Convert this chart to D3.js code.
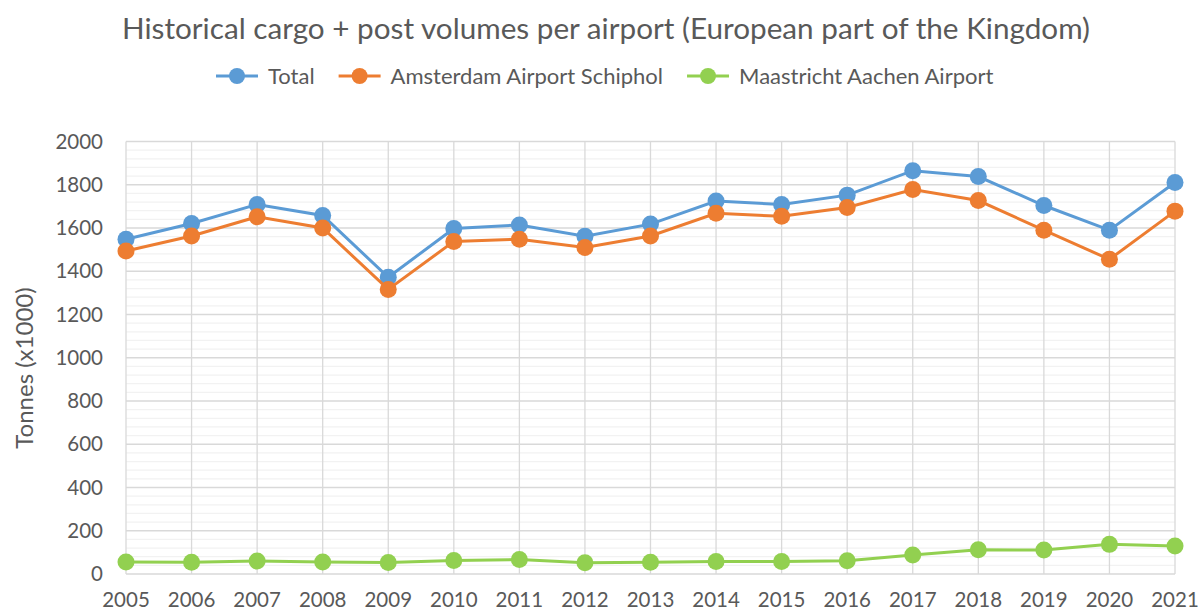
<!DOCTYPE html>
<html>
<head>
<meta charset="utf-8">
<script src="https://cdn.jsdelivr.net/npm/d3@7"></script>
<style>
  body { margin: 0; background: #fff; }
  text { font-family: Lato, "Open Sans", sans-serif; fill: #595959; }
</style>
</head>
<body>
<div id="chart"></div>
<script>
// jaren en waarden (x1000 ton)
const years = ["2005","2006","2007","2008","2009","2010","2011","2012","2013","2014","2015","2016","2017","2018","2019","2020","2021"];
const total = [1548, 1621, 1709, 1658, 1372, 1598, 1614, 1562, 1618, 1725, 1709, 1752, 1865, 1838, 1704, 1590, 1810];
const schiphol = [1494, 1563, 1652, 1600, 1316, 1538, 1548, 1510, 1563, 1668, 1654, 1695, 1778, 1727, 1590, 1455, 1678];
const maastricht = [55, 54, 60, 56, 53, 62, 67, 52, 54, 58, 58, 61, 88, 112, 111, 137, 129];
const yTicks = [0, 200, 400, 600, 800, 1000, 1200, 1400, 1600, 1800, 2000];

const series = [
  { name: "Total", values: total, color: "#5B9BD5" },
  { name: "Amsterdam Airport Schiphol", values: schiphol, color: "#ED7D31" },
  { name: "Maastricht Aachen Airport", values: maastricht, color: "#92D050" }
];

const width = 1200, height = 615;
const plotLeft = 126, plotRight = 1175, plotTop = 141.5, plotBottom = 574;

const svg = d3.select("#chart").append("svg")
  .attr("width", width)
  .attr("height", height);

const x = d3.scalePoint().domain(years).range([plotLeft, plotRight]);
const y = d3.scaleLinear().domain([0, 2000]).range([plotBottom, plotTop]);

// minor gridlines (elke 40)
svg.append("g").selectAll("line")
  .data(d3.range(0, 2001, 40).filter(v => v % 200 !== 0))
  .enter().append("line")
  .attr("x1", plotLeft).attr("x2", plotRight)
  .attr("y1", d => y(d)).attr("y2", d => y(d))
  .attr("stroke", "#F2F2F2").attr("stroke-width", 1.3);

// major gridlines
svg.append("g").selectAll("line")
  .data(yTicks)
  .enter().append("line")
  .attr("x1", plotLeft).attr("x2", plotRight)
  .attr("y1", d => y(d)).attr("y2", d => y(d))
  .attr("stroke", "#D9D9D9").attr("stroke-width", 1.3);

// verticale gridlines
svg.append("g").selectAll("line")
  .data(years)
  .enter().append("line")
  .attr("x1", d => x(d)).attr("x2", d => x(d))
  .attr("y1", plotTop).attr("y2", plotBottom)
  .attr("stroke", "#D9D9D9").attr("stroke-width", 1.3);

// y labels
svg.append("g").selectAll("text")
  .data(yTicks)
  .enter().append("text")
  .attr("x", 103)
  .attr("y", d => y(d))
  .attr("dy", "0.35em")
  .attr("text-anchor", "end")
  .style("font-size", "20.5px")
  .text(d => d);

// x labels
svg.append("g").selectAll("text")
  .data(years)
  .enter().append("text")
  .attr("x", d => x(d))
  .attr("y", 607)
  .attr("text-anchor", "middle")
  .style("font-size", "20.5px")
  .text(d => d);

// as titel
svg.append("text")
  .attr("transform", "translate(33,368) rotate(-90)")
  .attr("text-anchor", "middle")
  .style("font-size", "24px")
  .text("Tonnes (x1000)");

// titel
svg.append("text")
  .attr("x", 122).attr("y", 39)
  .attr("textLength", 968)
  .attr("lengthAdjust", "spacingAndGlyphs")
  .style("font-size", "29px")
  .text("Historical cargo + post volumes per airport (European part of the Kingdom)");

// lijnen
const line = d3.line().x((d, i) => x(years[i])).y(d => y(d));

series.forEach(s => {
  const g = svg.append("g");
  g.append("path")
    .attr("d", line(s.values))
    .attr("fill", "none")
    .attr("stroke", s.color)
    .attr("stroke-width", 3);
  g.selectAll("circle")
    .data(s.values)
    .enter().append("circle")
    .attr("cx", (d, i) => x(years[i]))
    .attr("cy", d => y(d))
    .attr("r", 8.5)
    .attr("fill", s.color);
});

// legenda
const legend = svg.append("g");
let cursor = 216;
legend.selectAll("g")
  .data(series)
  .enter().append("g")
  .each(function(s) {
    const g = d3.select(this).attr("transform", "translate(" + cursor + ",76)");
    g.append("line").attr("x1", 0).attr("x2", 42).attr("y1", 0).attr("y2", 0)
      .attr("stroke", s.color).attr("stroke-width", 3);
    g.append("circle").attr("cx", 21).attr("cy", 0).attr("r", 8).attr("fill", s.color);
    const t = g.append("text").attr("x", 52).attr("y", 0).attr("dy", "0.35em")
      .style("font-size", "22px").text(s.name);
    cursor += 52 + t.node().getComputedTextLength() + 24;
  });
</script>
</body>
</html>
